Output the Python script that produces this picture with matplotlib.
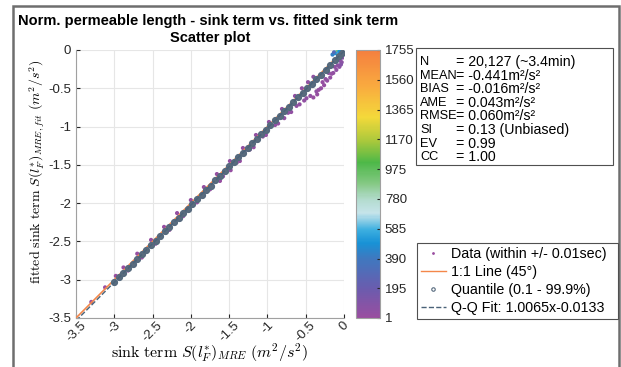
import numpy as np
import matplotlib
matplotlib.use("Agg")
import matplotlib.pyplot as plt
from matplotlib.colors import LinearSegmentedColormap
from matplotlib.patches import Rectangle
from matplotlib.lines import Line2D

plt.rcParams['font.family'] = ['Liberation Sans', 'DejaVu Sans']
plt.rcParams['mathtext.fontset'] = 'cm'

#==== data ====
# scatter samples: x = S(l_F*)_MRE, y = fitted, c = point density
data_x = [-3.30, -3.12, -2.98, -2.88, -2.70, -2.52, -2.35, -2.18, -2.00, -1.83,
          -1.66, -1.49, -1.32, -1.15, -0.98, -0.81, -0.64, -0.55, -0.47, -0.40,
          -3.00, -2.82, -2.64, -2.46, -2.28, -2.10, -1.92, -1.75, -1.58, -1.40,
          -1.23, -1.06, -0.90, -0.73, -0.62, -0.52, -0.44, -0.36,
          -1.62, -1.48, -1.36, -1.18, -1.02, -0.86, -0.78, -0.69, -0.58, -0.49,
          -1.55, -1.27, -0.95, -0.67,
          -0.40, -0.35, -0.30, -0.26, -0.22, -0.18, -0.14, -0.10, -0.06, -0.03,
          -0.20, -0.12, -0.05, -0.02, -0.28, -0.16, -0.08, -0.33, -0.24, -0.04,
          -0.15, -0.12, -0.10, -0.13, -0.08,
          -0.09, -0.07, -0.05, -0.04, -0.03, -0.02, -0.01, -0.06, -0.02]
data_y = [-3.29, -3.10, -2.95, -2.84, -2.66, -2.48, -2.31, -2.13, -1.96, -1.79,
          -1.62, -1.45, -1.28, -1.11, -0.94, -0.77, -0.60, -0.50, -0.42, -0.35,
          -3.05, -2.88, -2.71, -2.53, -2.35, -2.17, -1.99, -1.82, -1.65, -1.47,
          -1.30, -1.13, -0.98, -0.82, -0.73, -0.66, -0.60, -0.54,
          -1.71, -1.57, -1.45, -1.27, -1.11, -0.96, -0.89, -0.81, -0.71, -0.63,
          -1.58, -1.30, -0.98, -0.70,
          -0.62, -0.58, -0.50, -0.46, -0.40, -0.36, -0.30, -0.26, -0.22, -0.16,
          -0.30, -0.22, -0.14, -0.10, -0.42, -0.31, -0.20, -0.52, -0.38, -0.19,
          -0.06, -0.04, -0.02, -0.03, -0.01,
          -0.05, -0.04, -0.03, -0.05, -0.01, -0.02, 0.00, -0.02, -0.04]
data_c = [3, 5, 8, 12, 15, 18, 20, 22, 25, 25,
          28, 30, 30, 32, 35, 38, 40, 42, 45, 50,
          4, 10, 14, 16, 18, 20, 22, 24, 26, 28,
          30, 32, 34, 36, 38, 40, 42, 45,
          20, 22, 25, 28, 30, 32, 35, 38, 40, 45,
          60, 90, 120, 150,
          20, 22, 25, 28, 30, 35, 40, 45, 50, 60,
          30, 40, 60, 80, 25, 35, 50, 20, 30, 90,
          420, 500, 650, 300, 900,
          450, 600, 800, 1200, 1400, 1700, 1755, 500, 1300]

# quantiles (0.1 - 99.9%)
q_x = [-3.00, -2.94, -2.88, -2.82, -2.76, -2.70, -2.64, -2.58, -2.52, -2.46,
       -2.40, -2.34, -2.28, -2.22, -2.16, -2.10, -2.04, -1.98, -1.92, -1.86,
       -1.80, -1.74, -1.68, -1.62, -1.56, -1.50, -1.44, -1.38, -1.32, -1.26,
       -1.20, -1.14, -1.08, -1.02, -0.96, -0.90, -0.84, -0.78, -0.72, -0.66,
       -0.60, -0.54, -0.48, -0.42, -0.36, -0.30, -0.24, -0.18, -0.12, -0.07, -0.03]
q_y = [-3.03, -2.97, -2.91, -2.85, -2.79, -2.73, -2.67, -2.61, -2.55, -2.49,
       -2.43, -2.37, -2.31, -2.25, -2.19, -2.13, -2.07, -2.01, -1.95, -1.89,
       -1.83, -1.77, -1.70, -1.64, -1.58, -1.52, -1.46, -1.40, -1.34, -1.28,
       -1.22, -1.16, -1.10, -1.04, -0.98, -0.92, -0.86, -0.80, -0.74, -0.68,
       -0.62, -0.56, -0.50, -0.44, -0.38, -0.32, -0.26, -0.20, -0.13, -0.08, -0.04]

fit_slope = 1.0065
fit_icpt = -0.0133
ax_min, ax_max = -3.5, 0.0

cb_ticks = [1, 195, 390, 585, 780, 975, 1170, 1365, 1560, 1755]
xticks = [-3.5, -3, -2.5, -2, -1.5, -1, -0.5, 0]
xticklabels = ['-3.5', '-3', '-2.5', '-2', '-1.5', '-1', '-0.5', '0']

stat_names = ['N', 'MEAN', 'BIAS', 'AME', 'RMSE', 'SI', 'EV', 'CC']
stat_vals = ['= 20,127 (~3.4min)', '= -0.441m²/s²', '= -0.016m²/s²',
             '= 0.043m²/s²', '= 0.060m²/s²', '= 0.13 (Unbiased)',
             '= 0.99', '= 1.00']

#==== colormap ====
cmap = LinearSegmentedColormap.from_list('dens', [
    (0.00, '#9a4ea0'), (0.11, '#6a5cae'), (0.22, '#3f78bf'), (0.28, '#1892d6'),
    (0.33, '#3fb0e0'), (0.39, '#c6e4ea'), (0.44, '#b4dcd0'), (0.50, '#86c986'),
    (0.58, '#4db848'), (0.66, '#a9c83c'), (0.75, '#f4d93a'), (0.87, '#f9a93f'),
    (1.00, '#f47f3f')])

#==== figure ====
W, H = 621, 367
fig = plt.figure(figsize=(W/100, H/100), dpi=100)

def fx(px):
    return px/W

def fy(py):
    return 1-py/H

# outer frame
fig.patches.append(Rectangle((fx(13), -0.05), fx(619)-fx(13), fy(6)+0.05,
                             transform=fig.transFigure, fill=False,
                             edgecolor='#6e6e6e', linewidth=1.8))

ax = fig.add_axes([fx(76), fy(318), fx(344)-fx(76), fy(50)-fy(318)])
cax = fig.add_axes([fx(356), fy(318), fx(380)-fx(356), fy(50)-fy(318)])

ax.grid(True, color='#e6e6e6', linewidth=0.8, zorder=0)
ax.set_axisbelow(True)

sc = ax.scatter(data_x, data_y, c=data_c, cmap=cmap, vmin=1, vmax=1755,
                s=9, marker='o', linewidths=0, zorder=3)
ax.plot([ax_min, ax_max], [ax_min, ax_max], color='#f4874a', linewidth=1.2, zorder=4)
ax.plot(q_x, q_y, linestyle='none', marker='o', markersize=4.2, mfc='#5a6c7e',
        mec='#55697d', mew=1.0, zorder=5)
fx_line = np.array([ax_min, ax_max])
ax.plot(fx_line, fit_slope*fx_line+fit_icpt, linestyle='--', color='#4a6278',
        linewidth=1.0, zorder=6)

ax.set_xlim(ax_min, ax_max)
ax.set_ylim(ax_min, ax_max)
ax.set_xticks(xticks)
ax.set_xticklabels(xticklabels, rotation=45, ha='center', va='top')
ax.set_yticks(xticks)
ax.set_yticklabels(xticklabels)
ax.tick_params(direction='in', length=3, colors='#262626', labelsize=9.5,
               top=False, right=False)
ax.tick_params(axis='x', pad=1)
for s in ax.spines.values():
    s.set_color('#a0a0a0')
ax.spines['top'].set_visible(False)
ax.spines['right'].set_visible(False)

ax.set_xlabel(r'$\mathrm{sink\ term}\ S(l_F^{*})_{MRE}\ (m^2/s^2)$', fontsize=11.5,
              va='center')
ax.xaxis.set_label_coords(0.5, (318-353)/268)
ax.set_ylabel(r'$\mathrm{fitted\ sink\ term}\ S(l_F^{*})_{MRE,fit}\ (m^2/s^2)$',
              fontsize=10, va='center')
ax.yaxis.set_label_coords((37-76)/268, (318-172)/268)

cb = fig.colorbar(sc, cax=cax, ticks=cb_ticks)
cb.ax.tick_params(direction='in', length=2, labelsize=9.5, colors='#262626')
cb.outline.set_edgecolor('#a0a0a0')

# title
fig.text(fx(208), fy(21), 'Norm. permeable length - sink term vs. fitted sink term',
         ha='center', va='center', fontsize=10.5, fontweight='bold')
fig.text(fx(210), fy(38), 'Scatter plot', ha='center', va='center',
         fontsize=10.5, fontweight='bold')

# statistics box
fig.patches.append(Rectangle((fx(416), fy(165)), fx(613)-fx(416), fy(48)-fy(165),
                             transform=fig.transFigure, fill=False,
                             edgecolor='#505050', linewidth=0.8))
for i, (nm, vl) in enumerate(zip(stat_names, stat_vals)):
    yy = fy(62+13.6*i)
    fig.text(fx(420), yy, nm, ha='left', va='center', fontsize=9.2)
    fig.text(fx(456), yy, vl, ha='left', va='center', fontsize=10.2)

# legend
handles = [Line2D([], [], linestyle='none', marker='.', markersize=2, color='#9a4ea0'),
           Line2D([], [], color='#f4874a', linewidth=1.0),
           Line2D([], [], linestyle='none', marker='o', markersize=2.5, mfc='none',
                  mec='#55697d', mew=0.8),
           Line2D([], [], linestyle='--', color='#4a6278', linewidth=1.0)]
labels = ['Data (within +/- 0.01sec)', '1:1 Line (45°)', 'Quantile (0.1 - 99.9%)',
          'Q-Q Fit: 1.0065x-0.0133']
leg = fig.legend(handles, labels, loc='lower left',
                 bbox_to_anchor=(fx(417), fy(319), fx(618)-fx(417), fy(238)-fy(319)),
                 mode='expand', fontsize=10.3, handlelength=1.8, handletextpad=0.3,
                 borderpad=0.25, labelspacing=0.3, fancybox=False, framealpha=1,
                 borderaxespad=0)
leg.get_frame().set_edgecolor('#505050')
leg.get_frame().set_linewidth(0.8)

fig.savefig('out.png', dpi=100)
